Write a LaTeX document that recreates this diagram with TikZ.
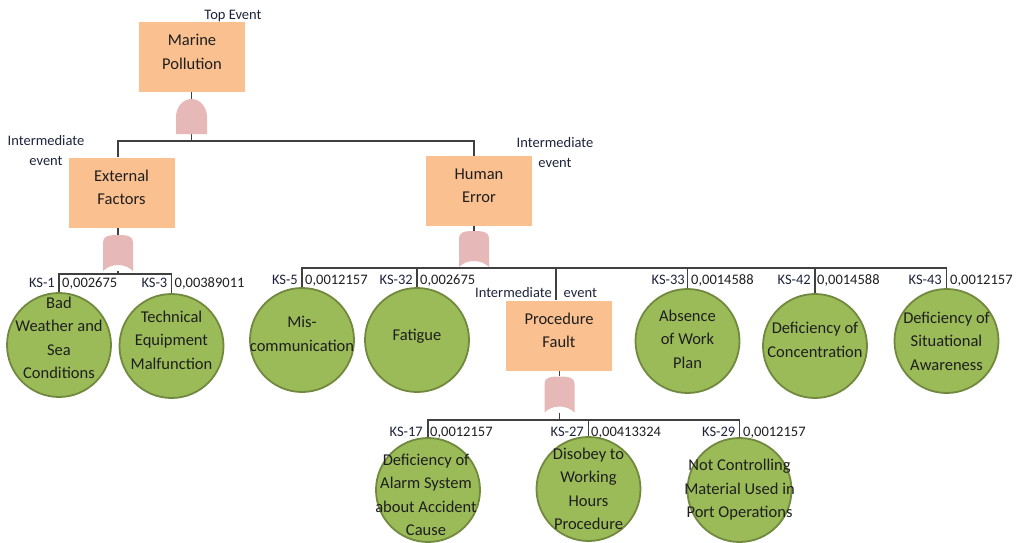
\documentclass[tikz,border=0pt]{standalone}
\usepackage{fontspec}
\setmainfont{Carlito}
\usetikzlibrary{calc,backgrounds}
\definecolor{boxfill}{RGB}{250,192,143}
\definecolor{leaf}{RGB}{155,187,89}
\definecolor{leafdark}{RGB}{113,137,62}
\definecolor{gatefill}{RGB}{230,185,184}
\definecolor{wire}{RGB}{64,64,64}
\definecolor{ink}{RGB}{30,30,30}
\definecolor{noteink}{RGB}{30,35,60}
\newcommand{\bigtxt}{\fontsize{16.5}{23.5}\selectfont}
\newcommand{\smalltxt}{\fontsize{14.5}{20}\selectfont}
\begin{document}
\begin{tikzpicture}[x=1pt,y=-1pt,
  evbox/.style={rectangle, fill=boxfill, minimum width=106pt, minimum height=70pt, inner sep=0pt},
  basic/.style={circle, fill=leaf, draw=leafdark, line width=1.8pt, minimum size=104pt, inner sep=0pt},
  intext/.style={align=center, font=\bigtxt, text=ink, inner sep=0pt},
  note/.style={align=center, font=\fontsize{14.5}{20}\selectfont, text=noteink, inner sep=0pt},
  kslab/.style={font=\smalltxt, text=noteink, inner sep=0pt, anchor=base east},
  prob/.style={font=\smalltxt, text=ink, inner sep=0pt, anchor=base west},
  wirestyle/.style={draw=wire, line width=1.3pt},
  andgate/.style={rectangle, minimum width=31pt, minimum height=35pt, inner sep=0pt,
    path picture={
      \fill[gatefill] (path picture bounding box.south west)
        -- ([yshift=17pt]path picture bounding box.south west)
        .. controls ([yshift=27pt]path picture bounding box.south west) and ([xshift=-8.5pt]path picture bounding box.north)
        .. (path picture bounding box.north)
        .. controls ([xshift=8.5pt]path picture bounding box.north) and ([yshift=27pt]path picture bounding box.south east)
        .. ([yshift=17pt]path picture bounding box.south east)
        -- (path picture bounding box.south east) -- cycle;}},
  orgate/.style={rectangle, minimum width=30pt, minimum height=36pt, inner sep=0pt,
    path picture={
      \fill[gatefill] (path picture bounding box.south west)
        -- ([yshift=-7pt]path picture bounding box.north west)
        .. controls ([yshift=-1pt]path picture bounding box.north west) and ([xshift=-9pt]path picture bounding box.north)
        .. (path picture bounding box.north)
        .. controls ([xshift=9pt]path picture bounding box.north) and ([yshift=-1pt]path picture bounding box.north east)
        .. ([yshift=-7pt]path picture bounding box.north east)
        -- (path picture bounding box.south east)
        .. controls ([xshift=-8pt,yshift=8pt]path picture bounding box.south east) and ([xshift=8pt,yshift=8pt]path picture bounding box.south west)
        .. (path picture bounding box.south west) -- cycle;}}
]
\useasboundingbox (0,0) rectangle (1020,543);

% event boxes
\node[evbox] (mp) at (192,57) {};
\node[evbox] (ef) at (121.5,192.5) {};
\node[evbox] (he) at (479,191) {};
\node[evbox] (pf) at (559,335.5) {};
\node[intext] (tmp) at ([yshift=5pt]mp.center) {Marine\\Pollution};
\node[intext] (tef) at ([yshift=5pt]ef.center) {External\\Factors};
\node[intext] (the) at ([yshift=5pt]he.center) {Human\\Error};
\node[intext] (tpf) at ([yshift=5pt]pf.center) {Procedure\\Fault};

% gates
\node[andgate] (gTop) at (191.5,116.5) {};
\node[orgate] (gExt) at (118,253) {};
\node[orgate] (gHum) at (474,249) {};
\node[orgate] (gProc) at (559.5,394.5) {};

% basic events
\node[basic] (c1) at (59,345) {};
\node[basic] (c3) at (171.5,346) {};
\node[basic] (c5) at (302,340) {};
\node[basic] (c32) at (417,340) {};
\node[basic] (c33) at (687.5,341) {};
\node[basic] (c42) at (815,346) {};
\node[basic] (c43) at (946.5,341) {};
\node[basic] (c17) at (428,490) {};
\node[basic] (c27) at (588.5,489) {};
\node[basic] (c29) at (739.5,490) {};

\node[intext] (t1) at ([yshift=7pt]c1.center) {Bad\\Weather and\\Sea\\Conditions};
\node[intext] (t3) at ([yshift=6pt]c3.center) {Technical\\Equipment\\Malfunction};
\node[intext] (t5) at ([yshift=6pt]c5.center) {Mis-\\communication};
\node[intext] (t32) at ([yshift=4pt]c32.center) {Fatigue};
\node[intext] (t33) at ([yshift=2pt]c33.center) {Absence\\of Work\\Plan};
\node[intext] (t42) at ([yshift=6pt]c42.center) {Deficiency of\\Concentration};
\node[intext] (t43) at (c43.center) {Deficiency of\\Situational\\Awareness};
\node[intext] (t17) at ([xshift=-2pt,yshift=-5pt]c17.center) {Deficiency of\\Alarm System\\about Accident\\Cause};
\node[intext] (t27) at (c27.center) {Disobey to\\Working\\Hours\\Procedure};
\node[intext] (t29) at (c29.center) {Not Controlling\\Material Used in\\Port Operations};

% annotations
\node[note] (ntop) at (233,16) {Top Event};
\node[note] (nl) at (46,151) {Intermediate\\event};
\node[note] (nr) at (555,153) {Intermediate\\event};
\node[note] (np) at (536,293) {Intermediate\hspace{12pt}event};

% cut set labels
\node[kslab] (k1) at (55,287) {KS-1};
\node[prob] (p1) at (62,287) {0,002675};
\node[kslab] (k3) at (167.5,287) {KS-3};
\node[prob] (p3) at (174.5,287) {0,00389011};
\node[kslab] (k5) at (298,284) {KS-5};
\node[prob] (p5) at (305,284) {0,0012157};
\node[kslab] (k32) at (413,284) {KS-32};
\node[prob] (p32) at (420,284) {0,002675};
\node[kslab] (k33) at (685,284) {KS-33};
\node[prob] (p33) at (691,284) {0,0014588};
\node[kslab] (k42) at (811,284) {KS-42};
\node[prob] (p42) at (817,284) {0,0014588};
\node[kslab] (k43) at (942,284) {KS-43};
\node[prob] (p43) at (950,284) {0,0012157};
\node[kslab] (k17) at (423,436) {KS-17};
\node[prob] (p17) at (430,436) {0,0012157};
\node[kslab] (k27) at (584,436) {KS-27};
\node[prob] (p27) at (591,436) {0,00413324};
\node[kslab] (k29) at (735.5,436) {KS-29};
\node[prob] (p29) at (743,436) {0,0012157};

% connectors
\begin{pgfonlayer}{background}
\coordinate (busT) at (191.5,141);
\coordinate (busE) at (118,274);
\coordinate (busH) at (474,268);
\coordinate (busP) at (559.5,420);
\draw[wirestyle] (gTop.north |- mp.south) -- (gTop.north);
\draw[wirestyle] (gTop.south) -- (busT);
\draw[wirestyle] ([xshift=-3.5pt]ef.north) |- (busT) -| ([xshift=-5pt]he.north);
\draw[wirestyle] (gExt.north |- ef.south) -- (gExt.north);
\draw[wirestyle] (gExt.south) -- (busE);
\draw[wirestyle] (c1.north) |- (busE) -| (c3.north);
\draw[wirestyle] (gHum.north |- he.south) -- (gHum.north);
\draw[wirestyle] (gHum.south) -- (busH);
\draw[wirestyle] (c5.north) |- (busH) -| (c43.north);
\draw[wirestyle] (c32.north) -- (c32.north |- busH);
\draw[wirestyle] (c33.north) -- (c33.north |- busH);
\draw[wirestyle] (c42.north) -- (c42.north |- busH);
\draw[wirestyle] ([xshift=-3pt]pf.north) -- ([xshift=-3pt]pf.north |- busH);
\draw[wirestyle] (gProc.north |- pf.south) -- (gProc.north);
\draw[wirestyle] (gProc.south) -- (busP);
\draw[wirestyle] (c17.north) |- (busP) -| (c29.north);
\draw[wirestyle] (c27.north) -- (c27.north |- busP);
\end{pgfonlayer}
\end{tikzpicture}
\end{document}
